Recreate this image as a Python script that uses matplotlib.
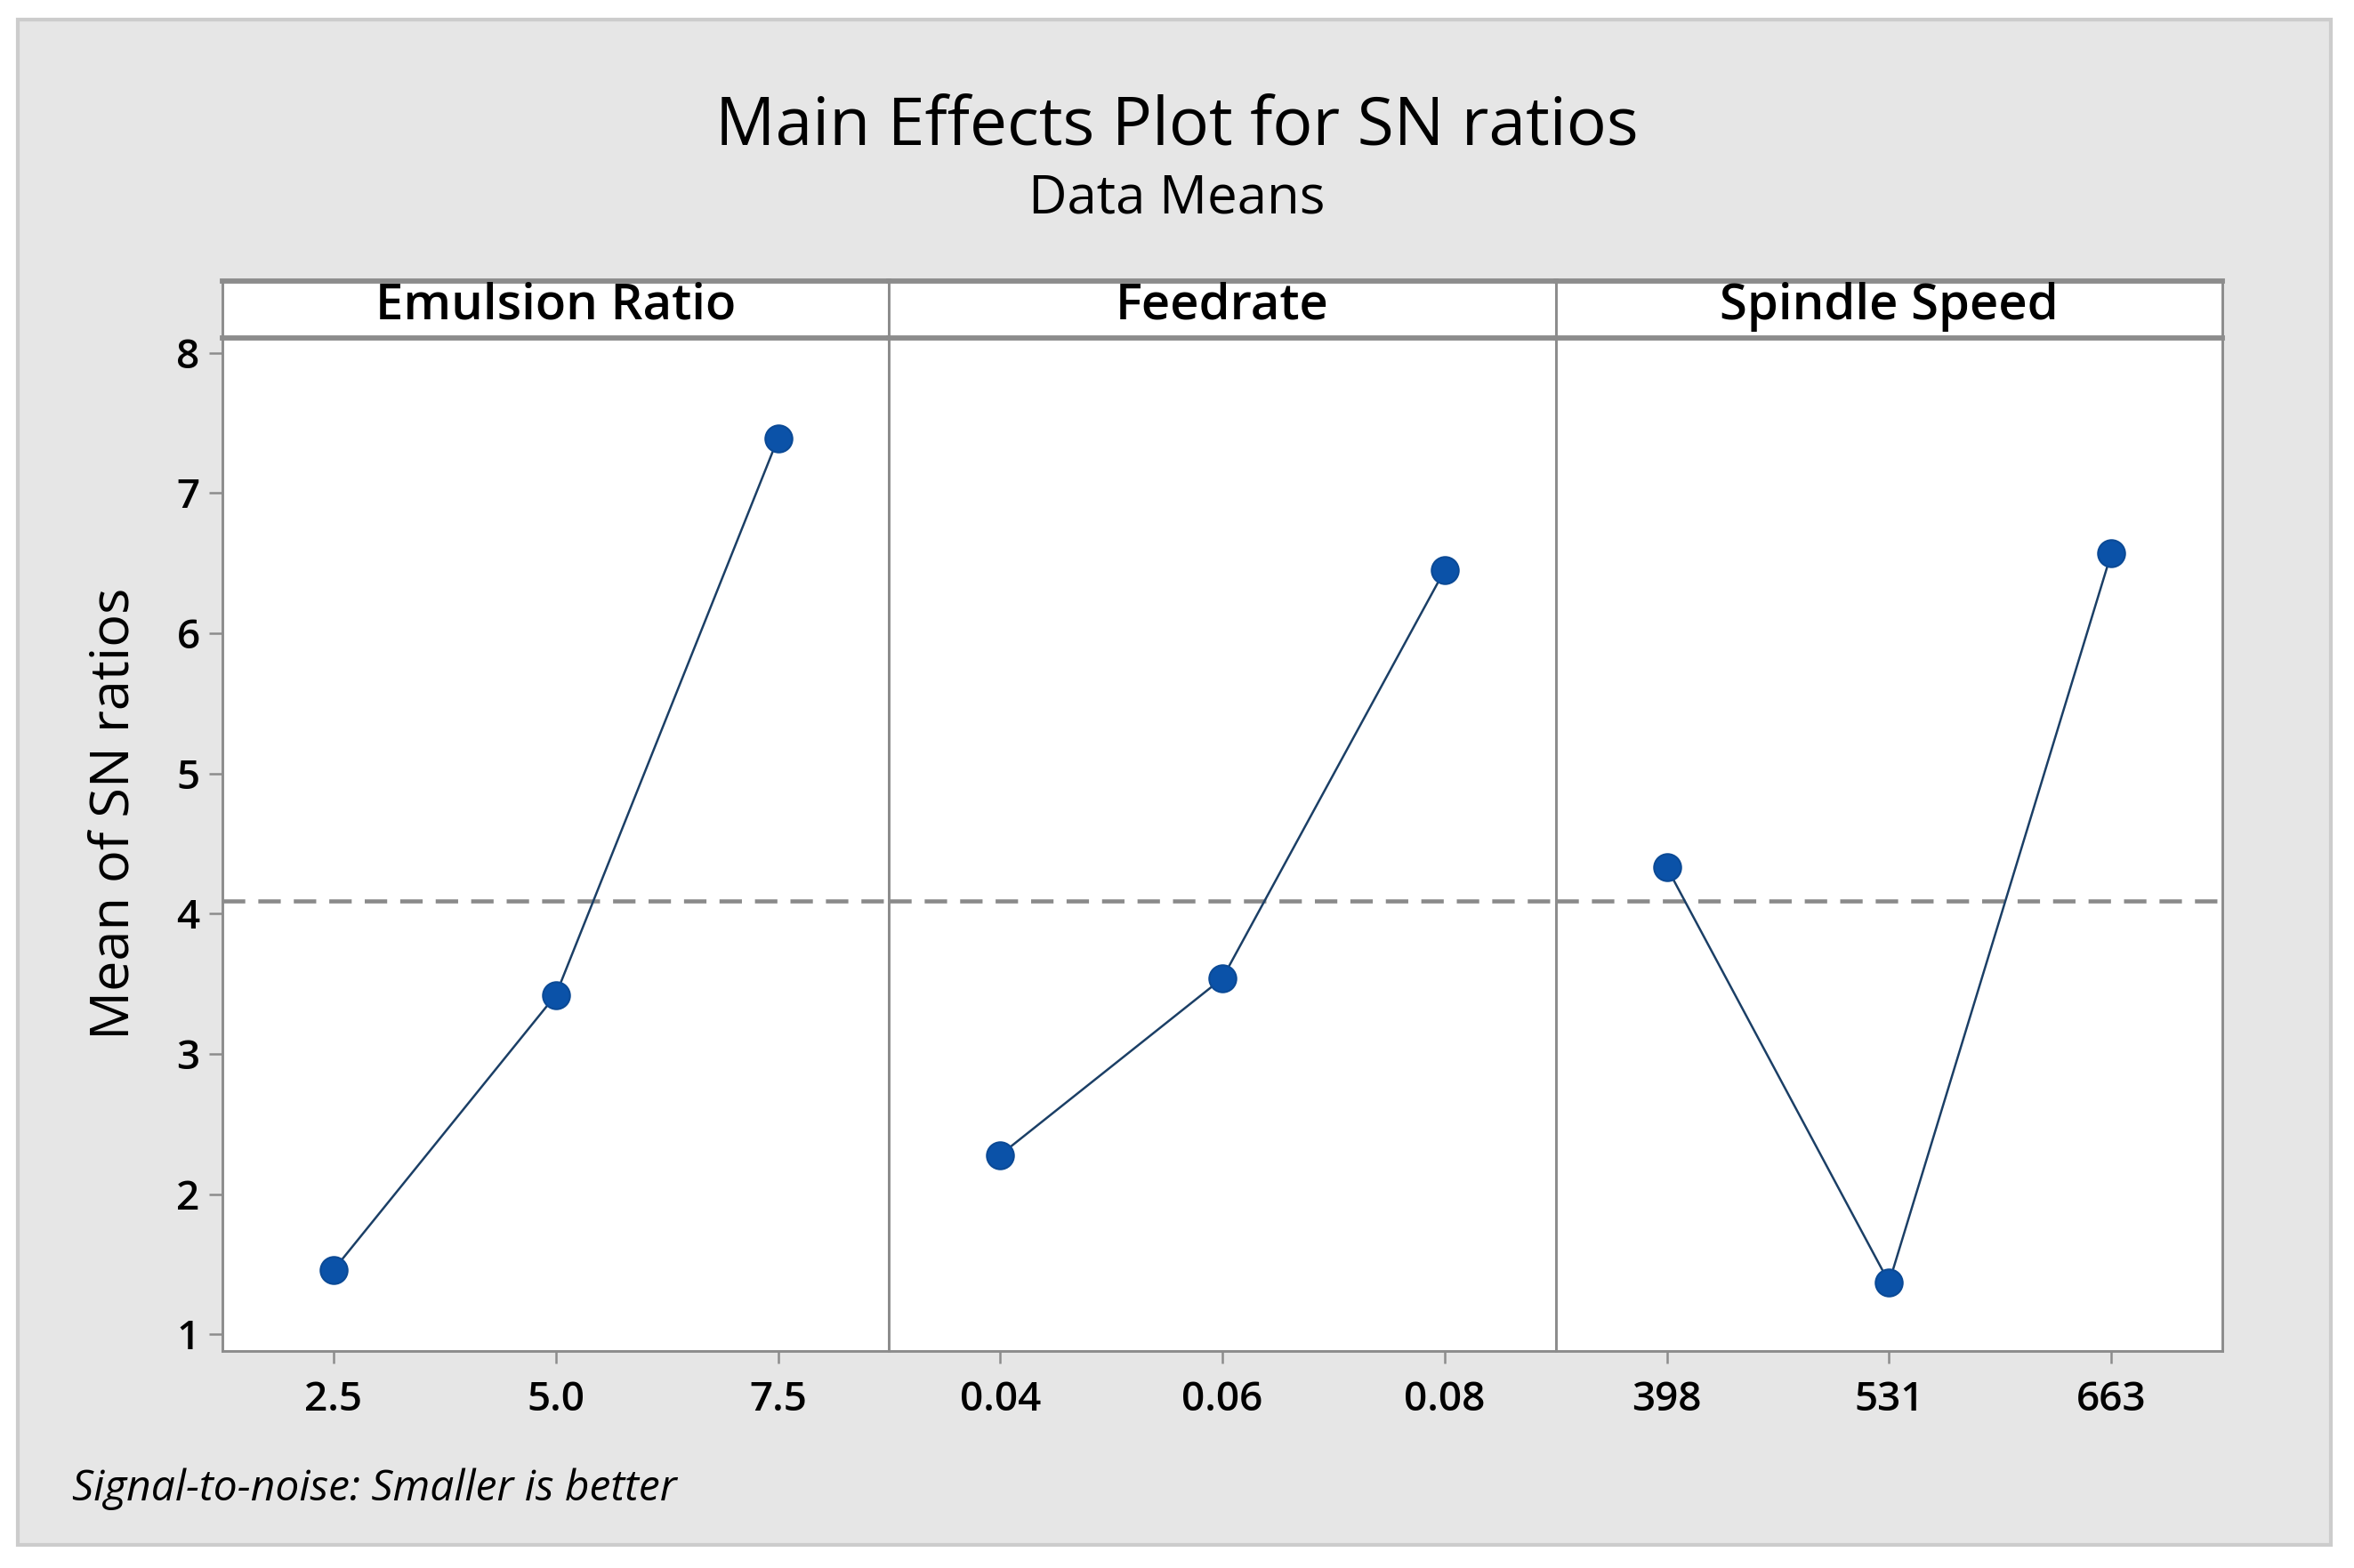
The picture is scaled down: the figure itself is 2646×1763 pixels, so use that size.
import matplotlib
matplotlib.use("Agg")
import matplotlib.pyplot as plt
from matplotlib.patches import Rectangle

# dados
fatores = ["Emulsion Ratio", "Feedrate", "Spindle Speed"]
niveis_emulsion = ["2.5", "5.0", "7.5"]
niveis_feedrate = ["0.04", "0.06", "0.08"]
niveis_spindle = ["398", "531", "663"]
sn_emulsion = [1.46, 3.42, 7.39]
sn_feedrate = [2.28, 3.54, 6.45]
sn_spindle = [4.33, 1.37, 6.57]
y_ticks = [1, 2, 3, 4, 5, 6, 7, 8]

niveis = [niveis_emulsion, niveis_feedrate, niveis_spindle]
valores = [sn_emulsion, sn_feedrate, sn_spindle]

# media geral das razoes SN
todos = sn_emulsion + sn_feedrate + sn_spindle
media = sum(todos) / len(todos)

plt.rcParams["font.family"] = ["Open Sans", "DejaVu Sans"]

fig = plt.figure(figsize=(8.82, 5.877), dpi=300)
fig.patch.set_facecolor("white")

# fundo cinza do Minitab (atras dos eixos)
fundo = Rectangle((0.0076, 0.0147), 0.9824, 0.9728, transform=fig.transFigure,
                  facecolor="#e6e6e6", edgecolor="#cccccc", linewidth=1.0, zorder=-5)
fig.patches.append(fundo)

esquerda = 0.0945
largura = (0.9441 - 0.0945) / 3
base = 0.1384
altura = 0.6461
altura_faixa = 0.0363

cor_borda = "#8c8c8c"

for i in range(3):
    x0 = esquerda + i * largura
    ax = fig.add_axes([x0, base, largura, altura])
    ax.set_facecolor("white")
    x = [1, 2, 3]
    ax.plot(x, valores[i], color="#1b3f66", linewidth=0.6, zorder=3)
    ax.plot(x, valores[i], linestyle="none", marker="o", markersize=7.3,
            markerfacecolor="#0b52a8", markeredgecolor="#0b4a96",
            markeredgewidth=0.5, zorder=4)
    ax.axhline(media, color="#8a8a8a", linewidth=1.1, dashes=(5.5, 3.2), zorder=2)
    ax.set_xlim(0.5, 3.5)
    ax.set_ylim(0.882, 8.107)
    ax.set_xticks(x)
    ax.set_xticklabels(niveis[i])
    ax.set_yticks(y_ticks)
    for s in ax.spines.values():
        s.set_color(cor_borda)
        s.set_linewidth(0.7)
    ax.tick_params(axis="x", length=3.4, width=0.6, color=cor_borda, pad=4.5,
                   labelsize=11)
    ax.tick_params(axis="y", length=3.6, width=0.6, color=cor_borda, pad=2.5,
                   labelsize=11)
    for t in ax.get_xticklabels() + ax.get_yticklabels():
        t.set_fontweight("semibold")
    if i > 0:
        ax.tick_params(axis="y", left=False, labelleft=False)

    # faixa com o nome do fator
    fx = fig.add_axes([x0, base + altura, largura, altura_faixa])
    fx.set_facecolor("white")
    fx.set_xticks([])
    fx.set_yticks([])
    for s in fx.spines.values():
        s.set_color(cor_borda)
        s.set_linewidth(0.7)
    fx.spines["top"].set_linewidth(1.4)
    fx.spines["bottom"].set_linewidth(1.4)
    fx.text(0.5, 0.55, fatores[i], ha="center", va="center", fontsize=13.5,
            fontweight="semibold", transform=fx.transAxes)

fig.text(0.5, 0.919, "Main Effects Plot for SN ratios", ha="center", va="center",
         fontsize=18, fontweight="medium")
fig.text(0.5, 0.873, "Data Means", ha="center", va="center", fontsize=14.4,
         fontweight="medium")
fig.text(0.0485, 0.481, "Mean of SN ratios", ha="center", va="center",
         rotation=90, fontsize=14.7, fontweight="medium")
fig.text(0.0306, 0.0505, "Signal-to-noise: Smaller is better", ha="left",
         va="center", fontsize=11.5, style="italic")

fig.savefig("out.png", dpi=300)
